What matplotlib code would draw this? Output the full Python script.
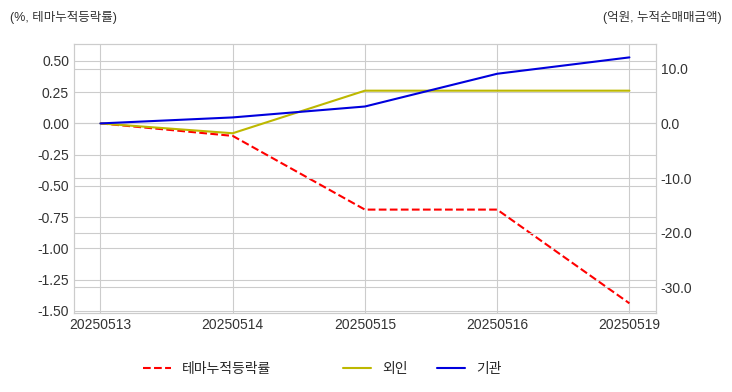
import matplotlib
matplotlib.use('Agg')
import matplotlib.pyplot as plt
import seaborn as sns
import numpy as np

dates = ['20250513', '20250514', '20250515', '20250516', '20250519']
theme_ret = [0.0, -0.10, -0.69, -0.69, -1.44]
foreign = [0.0, -1.8, 6.0, 6.0, 6.0]
inst = [0.0, 1.1, 3.1, 9.1, 12.1]

sns.set_style('whitegrid')
plt.rcParams['font.family'] = ['Liberation Sans', 'Noto Sans CJK KR', 'DejaVu Sans']
plt.rcParams['axes.unicode_minus'] = False

fig, ax1 = plt.subplots(figsize=(7.32, 3.92), dpi=100)
fig.subplots_adjust(left=0.101, right=0.896, top=0.888, bottom=0.202)

x = np.arange(len(dates))
l1, = ax1.plot(x, theme_ret, color='red', linestyle='--', linewidth=1.5, label='테마누적등락률')
left_ticks = [0.5, 0.25, 0.0, -0.25, -0.5, -0.75, -1.0, -1.25, -1.5]
ax1.set_ylim(-1.516, 0.636)
ax1.set_yticks(left_ticks)
ax1.set_yticklabels([f'{v:.2f}' for v in left_ticks])
ax1.set_xticks(x)
ax1.set_xticklabels(dates)
ax1.set_xlim(-0.2, 4.2)

ax2 = ax1.twinx()
l2, = ax2.plot(x, foreign, color='#bdb800', linewidth=1.5, label='외인')
l3, = ax2.plot(x, inst, color='#0000dd', linewidth=1.5, label='기관')
right_ticks = [10, 0, -10, -20, -30]
ax2.set_ylim(-34.7, 14.57)
ax2.set_yticks(right_ticks)
ax2.set_yticklabels([f'{v:.1f}' for v in right_ticks])
ax2.grid(True, color='#cccccc')
ax1.grid(True, color='#cccccc')

for a in (ax1, ax2):
    a.tick_params(labelsize=10, colors='#333333', length=0)
    for s in a.spines.values():
        s.set_color('#cccccc')

fig.text(0.014, 0.955, '(%, 테마누적등락률)', fontsize=9, color='#333333', va='center')
fig.text(0.986, 0.955, '(억원, 누적순매매금액)', fontsize=9, color='#333333', va='center', ha='right')

fig.legend(handles=[l1], loc='center', bbox_to_anchor=(0.283, 0.059),
           frameon=False, fontsize=10, handlelength=2)
fig.legend(handles=[l2, l3], loc='center', bbox_to_anchor=(0.577, 0.059), ncol=2,
           frameon=False, fontsize=10, handlelength=2, columnspacing=2.1)

plt.savefig('out.png', dpi=100)
